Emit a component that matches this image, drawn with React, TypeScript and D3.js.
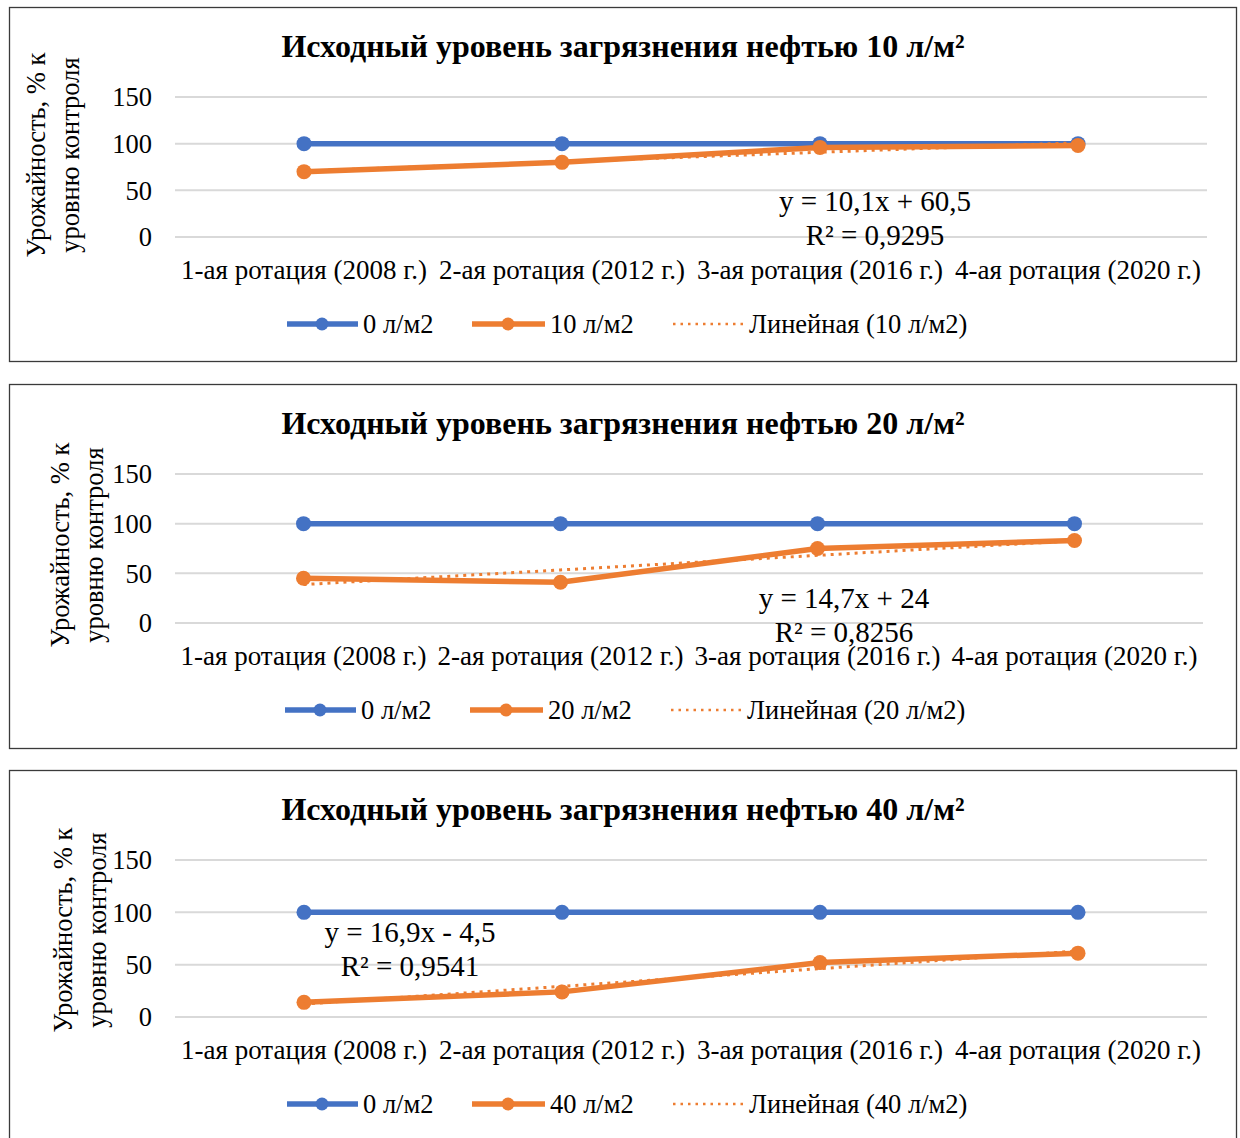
import React from 'react';
import * as d3 from 'd3';

const categories = ['1-ая ротация (2008 г.)', '2-ая ротация (2012 г.)', '3-ая ротация (2016 г.)', '4-ая ротация (2020 г.)'];
const yTicks = [0, 50, 100, 150];
const control = [100, 100, 100, 100];
const oil10 = [70, 80, 96, 98];
const oil20 = [45, 41, 75, 83];
const oil40 = [14, 24, 52, 61];
const doses = ['10', '20', '40'];
const trendSlopes = [10.1, 14.7, 16.9];
const trendIntercepts = [60.5, 24, -4.5];
const trendLabels = ['y = 10,1x + 60,5', 'y = 14,7x + 24', 'y = 16,9x - 4,5'];
const r2Labels = ['R² = 0,9295', 'R² = 0,8256', 'R² = 0,9541'];
const oilSeries = [oil10, oil20, oil40];

const BLUE = '#4472C4';
const ORANGE = '#ED7D31';
const GRID = '#D9D9D9';
const FONT = '"Liberation Serif", "Times New Roman", serif';

const layouts = [
  { boxTop: 7, boxBottom: 361, y150: 97, y0: 237, x0: 175, x1: 1207, yTitleX: 36, yTitleY: 155, eqX: 875, eqY: 201, legendShift: 0 },
  { boxTop: 384, boxBottom: 748, y150: 474, y0: 623, x0: 175, x1: 1203, yTitleX: 60, yTitleY: 545, eqX: 844, eqY: 598, legendShift: -2 },
  { boxTop: 770, boxBottom: 1150, y150: 860, y0: 1017, x0: 175, x1: 1207, yTitleX: 63, yTitleY: 930, eqX: 410, eqY: 932, legendShift: 0 },
];

function Panel({ idx }: { idx: number }) {
  const L = layouts[idx];
  const data = oilSeries[idx];
  const x = d3.scaleBand<string>().domain(categories).range([L.x0, L.x1]);
  const cx = (i: number) => (x(categories[i]) as number) + x.bandwidth() / 2;
  const y = d3.scaleLinear().domain([0, 150]).range([L.y0, L.y150]);
  const line = d3.line<number>().x((_, i) => cx(i)).y((d) => y(d));
  const trend = data.map((_, i) => trendSlopes[idx] * (i + 1) + trendIntercepts[idx]);
  const titleY = L.boxTop + 50;
  const legY = L.y0 + 87;
  const ls = L.legendShift;
  return (
    <g>
      <rect x={9.5} y={L.boxTop + 0.5} width={1227} height={L.boxBottom - L.boxTop} fill="#fff" stroke="#3a3a3a" strokeWidth={1.3} />
      <text x={623} y={titleY} textAnchor="middle" fontFamily={FONT} fontWeight="bold" fontSize={32}>
        {`Исходный уровень загрязнения нефтью ${doses[idx]} л/м²`}
      </text>
      {yTicks.map((t) => (
        <g key={t}>
          <line x1={L.x0} x2={L.x1} y1={y(t)} y2={y(t)} stroke={GRID} strokeWidth={2} />
          <text x={152} y={y(t)} dy="0.35em" textAnchor="end" fontFamily={FONT} fontSize={26.5}>{t}</text>
        </g>
      ))}
      <g transform={`translate(${L.yTitleX},${L.yTitleY}) rotate(-90)`}>
        <text x={0} y={0} dy="0.35em" textAnchor="middle" fontFamily={FONT} fontSize={26.5}>Урожайность, % к</text>
        <text x={0} y={34} dy="0.35em" textAnchor="middle" fontFamily={FONT} fontSize={26.5}>уровню контроля</text>
      </g>
      {categories.map((c, i) => (
        <text key={c} x={cx(i)} y={L.y0 + 33} dy="0.35em" textAnchor="middle" fontFamily={FONT} fontSize={27}>{c}</text>
      ))}
      <path d={line(control) as string} fill="none" stroke={BLUE} strokeWidth={5.5} />
      {control.map((v, i) => <circle key={i} cx={cx(i)} cy={y(v)} r={7.5} fill={BLUE} />)}
      <path d={line(data) as string} fill="none" stroke={ORANGE} strokeWidth={5.5} />
      {data.map((v, i) => <circle key={i} cx={cx(i)} cy={y(v)} r={7.5} fill={ORANGE} />)}
      <path d={line(trend) as string} fill="none" stroke={ORANGE} strokeWidth={3} strokeDasharray="3 5" />
      <text x={L.eqX} y={L.eqY} dy="0.35em" textAnchor="middle" fontFamily={FONT} fontSize={29}>{trendLabels[idx]}</text>
      <text x={L.eqX} y={L.eqY + 34} dy="0.35em" textAnchor="middle" fontFamily={FONT} fontSize={29}>{r2Labels[idx]}</text>
      <g fontFamily={FONT} fontSize={26.5}>
        <line x1={287 + ls} x2={358 + ls} y1={legY} y2={legY} stroke={BLUE} strokeWidth={5.5} />
        <circle cx={322 + ls} cy={legY} r={6.5} fill={BLUE} />
        <text x={363 + ls} y={legY} dy="0.35em">0 л/м2</text>
        <line x1={472 + ls} x2={545 + ls} y1={legY} y2={legY} stroke={ORANGE} strokeWidth={5.5} />
        <circle cx={508 + ls} cy={legY} r={6.5} fill={ORANGE} />
        <text x={550 + ls} y={legY} dy="0.35em">{`${doses[idx]} л/м2`}</text>
        <line x1={673 + ls} x2={743 + ls} y1={legY} y2={legY} stroke={ORANGE} strokeWidth={2.5} strokeDasharray="2.5 5" />
        <text x={749 + ls} y={legY} dy="0.35em">{`Линейная (${doses[idx]} л/м2)`}</text>
      </g>
    </g>
  );
}

export default function App() {
  return (
    <svg width={1240} height={1138} style={{ position: 'absolute', left: 0, top: 0, background: '#fff' }}>
      <rect width={1240} height={1138} fill="#fff" />
      {layouts.map((_, i) => <Panel key={i} idx={i} />)}
    </svg>
  );
}
